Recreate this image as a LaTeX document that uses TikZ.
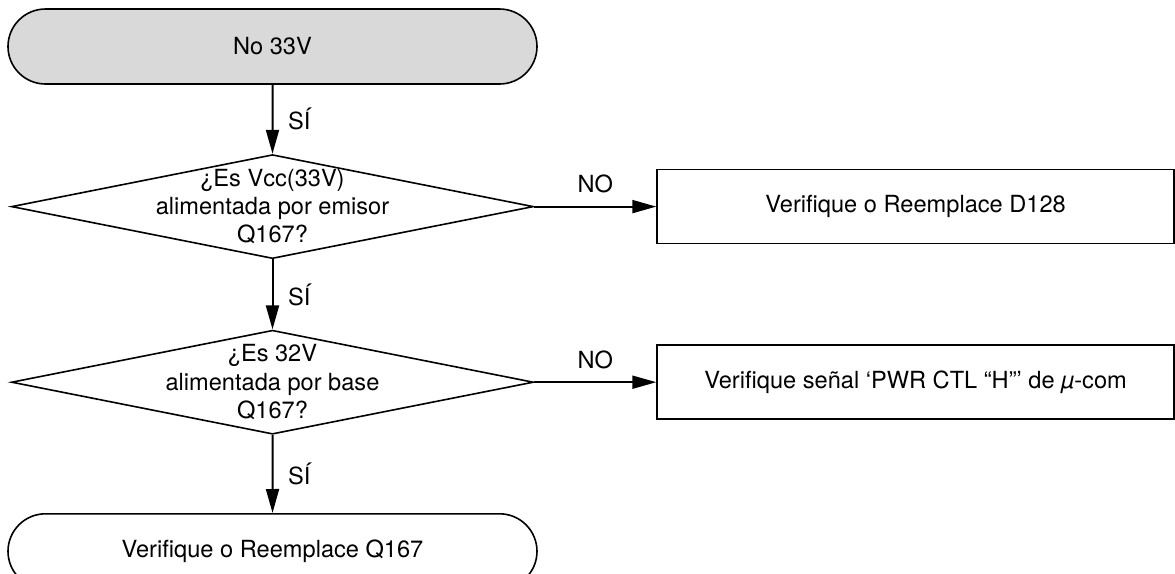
\documentclass[tikz,border=0pt]{standalone}
\usepackage{fontspec}
\setmainfont{TeX Gyre Heros}
\usetikzlibrary{arrows.meta,positioning,shapes.geometric,shapes.misc}
\colorlet{startgray}{black!15}
\tikzset{
	terminal/.style={
		rounded rectangle, draw, line width=0.8pt,
		minimum width=264.5pt, minimum height=37.5pt, inner sep=0pt,
	},
	decision/.style={
		diamond, draw, line width=0.8pt, aspect=5,
		minimum width=261pt, minimum height=52pt, inner sep=0pt,
	},
	action/.style={
		rectangle, draw, line width=0.8pt,
		minimum width=258.5pt, minimum height=37pt,
	},
	qtext/.style={align=center, inner sep=0pt},
	line/.style={
		draw, line width=1pt, -{Triangle[length=12pt,width=6.5pt]},
	}
}

\begin{document}
\begin{tikzpicture}[font=\fontsize{11.8pt}{14.2pt}\selectfont]
	\useasboundingbox (0,0) rectangle (587.5pt,-287pt);
	% Start
	\node [terminal, fill=startgray] (start) at (136.25pt,-23.25pt) {No 33V};
	% Questions
	\node [decision, below=34.5pt of start] (q1) {};
	\node [qtext] (q1text) at (q1) {¿Es Vcc(33V)\\ alimentada por emisor\\ Q167?};
	\node [decision, below=35pt of q1] (q2) {};
	\node [qtext] (q2text) at (q2) {¿Es 32V\\ alimentada por base\\ Q167?};
	% Results
	\node [action, right=61pt of q1] (fix1) {Verifique o Reemplace D128};
	\node [action, right=61pt of q2] (fix2) {Verifique señal ‘PWR CTL “H”’ de {\itshape µ}-com};
	\node [terminal, below=39pt of q2] (fix3) {Verifique o Reemplace Q167};
	% SI (down)
	\draw[line] (start) -- (q1) node[midway, right=4pt] {SÍ};
	\draw[line] (q1) -- (q2) node[midway, right=4pt] {SÍ};
	\draw[line] (q2) -- (fix3) node[midway, right=4pt] {SÍ};
	% NO (right)
	\draw[line] (q1) -- (fix1) node[midway, above=3pt] {NO};
	\draw[line] (q2) -- (fix2) node[midway, above=3pt] {NO};
\end{tikzpicture}
\end{document}
